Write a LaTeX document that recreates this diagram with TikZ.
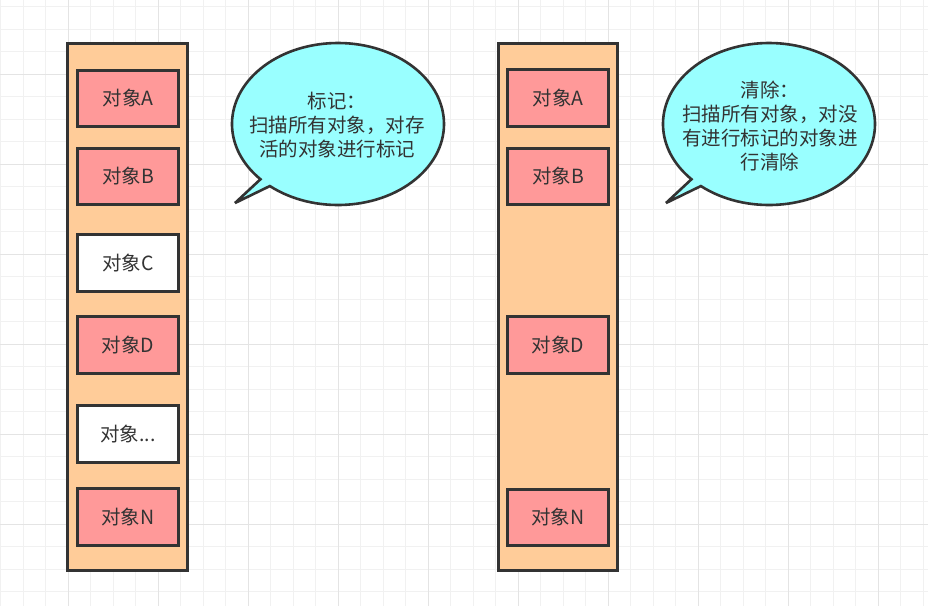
\documentclass[tikz,border=0pt]{standalone}
\usepackage{fontspec}
\usetikzlibrary{calc}
\setmainfont{Noto Sans CJK SC}
\definecolor{gridminor}{HTML}{F1F1F1}
\definecolor{gridmajor}{HTML}{E4E4E4}
\definecolor{strokec}{HTML}{333333}
\definecolor{heapfill}{HTML}{FFCC99}
\definecolor{objfill}{HTML}{FF9999}
\definecolor{bubblefill}{HTML}{99FFFF}
\begin{document}
\begin{tikzpicture}[x=1pt,y=-1pt,
  minorline/.style={gridminor,line width=1pt},
  majorline/.style={gridmajor,line width=1pt},
  heap/.style={draw=strokec,fill=heapfill,line width=3pt,minimum width=120pt,minimum height=527pt,inner sep=0pt},
  objbox/.style={draw=strokec,fill=objfill,line width=2.6pt,minimum width=101pt,minimum height=56.5pt,inner sep=0pt,text=strokec,font=\fontsize{19.5}{24}\selectfont},
  freebox/.style={objbox,fill=white},
  bubble/.style={draw=strokec,fill=bubblefill,line width=2.6pt,line join=miter,miter limit=6},
  bubbletext/.style={align=center,text=strokec,font=\fontsize{19.5}{23.7}\selectfont,inner sep=0pt}
]
\useasboundingbox (0,0) rectangle (928,606);
\fill[white] (0,0) rectangle (928,606);
% grid
\foreach \i in {0,...,41} \draw[minorline] ({0.5+22.5*\i},0) -- ({0.5+22.5*\i},606);
\foreach \j in {0,...,26} \draw[minorline] (0,{6.5+22.5*\j}) -- (928,{6.5+22.5*\j});
\foreach \i in {0,...,9} \draw[majorline] ({68+90*\i},0) -- ({68+90*\i},606);
\foreach \j in {0,...,5} \draw[majorline] (0,{74+90*\j}) -- (928,{74+90*\j});

% left heap
\node[heap] (heapL) at (127.5,307) {};
\node[objbox] (LA) at (128,98.5) {对象A};
\node[objbox] (LB) at (128,176.5) {对象B};
\node[freebox] (LC) at (128,263) {对象C};
\node[objbox] (LD) at (128,345) {对象D};
\node[freebox] (LE) at (128,434) {对象...};
\node[objbox] (LN) at (128,517) {对象N};

% right heap
\node[heap,minimum width=119pt] (heapR) at (558,307) {};
\node[objbox] (RA) at (558,98) {对象A};
\node[objbox] (RB) at (558,176.5) {对象B};
\node[objbox] (RD) at (558,345) {对象D};
\node[objbox] (RN) at (558,517.5) {对象N};

% left callout
\coordinate (cL) at (338,124);
\coordinate (tipL) at (235,203);
\draw[bubble] ($(cL)+(137:106 and 81)$) -- (tipL) -- ($(cL)+(130:106 and 81)$)
  arc[start angle=130,end angle=-223,x radius=106,y radius=81] -- cycle;
\node[bubbletext] (tL) at (337,125) {标记：\\扫描所有对象，对存\\活的对象进行标记};

% right callout
\coordinate (cR) at (769,124);
\coordinate (tipR) at (666,203);
\draw[bubble] ($(cR)+(137:106 and 81)$) -- (tipR) -- ($(cR)+(130:106 and 81)$)
  arc[start angle=130,end angle=-223,x radius=106,y radius=81] -- cycle;
\node[bubbletext] (tR) at (770,126) {清除：\\扫描所有对象，对没\\有进行标记的对象进\\行清除};
\end{tikzpicture}
\end{document}
